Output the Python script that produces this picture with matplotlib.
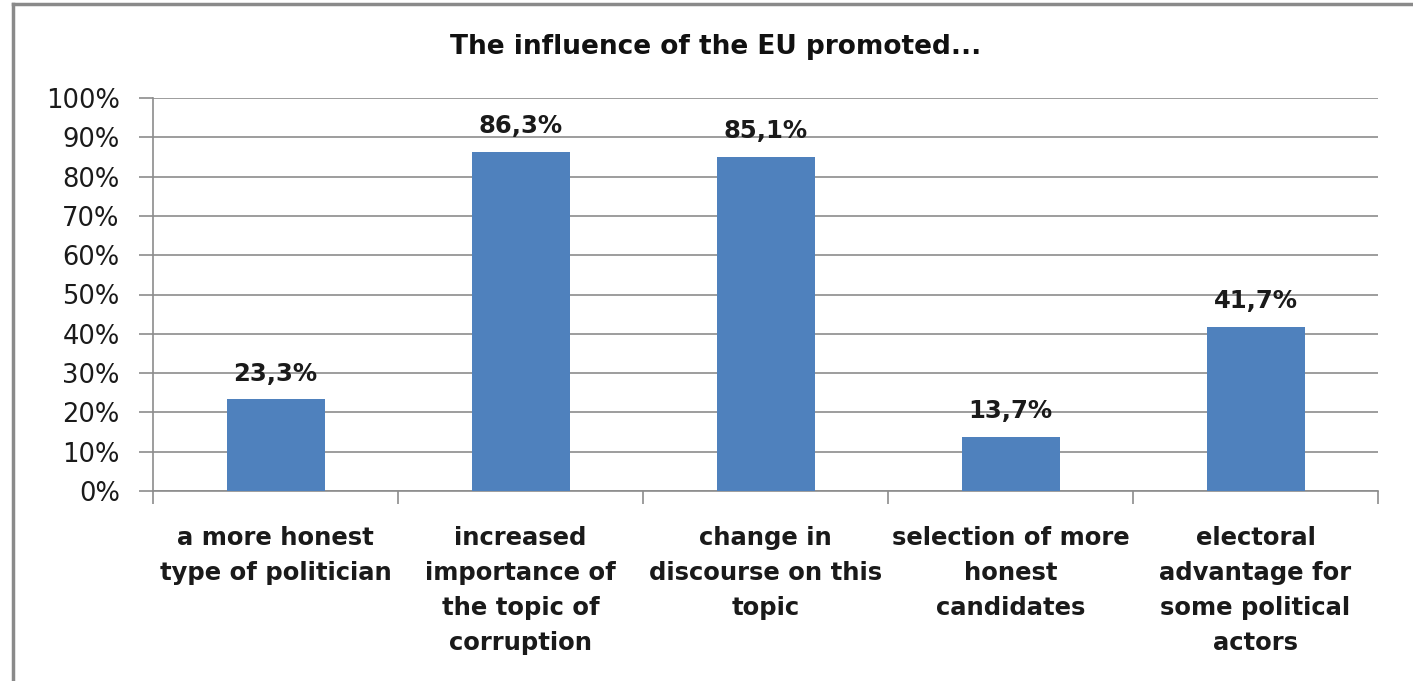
import numpy as np
import matplotlib.pyplot as plt
from matplotlib.lines import Line2D
from matplotlib.ticker import PercentFormatter

categories = ['a more honest\ntype of politician',
              'increased\nimportance of\nthe topic of\ncorruption',
              'change in\ndiscourse on this\ntopic',
              'selection of more\nhonest\ncandidates',
              'electoral\nadvantage for\nsome political\nactors']
values = [23.3, 86.3, 85.1, 13.7, 41.7]
value_labels = ['23,3%', '86,3%', '85,1%', '13,7%', '41,7%']

plt.rcParams['font.family'] = ['DejaVu Sans']

W, H = 1413, 681
fig = plt.figure(figsize=(W / 100, H / 100), dpi=100)
ax = fig.add_axes([153 / W, 1 - 491 / H, (1378 - 153) / W, (491 - 98) / H])

x = np.arange(len(categories))
ax.bar(x, values, width=0.4, color='#4F81BD', zorder=3)
for xi, v, lab in zip(x, values, value_labels):
    ax.text(xi, v + 3.5, lab, ha='center', va='bottom', fontsize=17.5,
            fontweight='bold', color='#1a1a1a')

ax.set_xlim(-0.5, len(categories) - 0.5)
ax.set_ylim(0, 100)
ax.set_yticks(np.arange(0, 101, 10))
ax.yaxis.set_major_formatter(PercentFormatter(decimals=0))
ax.grid(axis='y', color='#8c8c8c', linewidth=1.2, zorder=0)

# category labels between boundary ticks
ax.set_xticks(np.arange(-0.5, len(categories), 1.0))
ax.set_xticklabels([])
ax.set_xticks(x, minor=True)
ax.set_xticklabels(categories, minor=True, fontsize=17.5, fontweight='bold',
                   color='#1a1a1a', linespacing=1.58)
ax.tick_params(axis='x', which='minor', length=0, pad=25)
ax.tick_params(axis='x', which='major', length=9, color='#8c8c8c', width=1.2)
ax.tick_params(axis='y', length=10, color='#8c8c8c', width=1.2,
               labelsize=18.5, labelcolor='#1a1a1a', pad=14)

for s in ['top', 'right']:
    ax.spines[s].set_visible(False)
for s in ['left', 'bottom']:
    ax.spines[s].set_color('#8c8c8c')
    ax.spines[s].set_linewidth(1.2)

fig.text(0.5 * (447 + 985) / W, 1 - 47 / H, 'The influence of the EU promoted...',
         ha='center', va='center', fontsize=19, fontweight='bold', color='#111111')

# outer chart frame (top and left edges visible)
fig.add_artist(Line2D([13 / W, 1.0], [1 - 4 / H, 1 - 4 / H], color='#8a8a8a', linewidth=2.5))
fig.add_artist(Line2D([13 / W, 13 / W], [0, 1 - 4 / H], color='#8a8a8a', linewidth=2.5))

fig.savefig('out.png', dpi=100)
